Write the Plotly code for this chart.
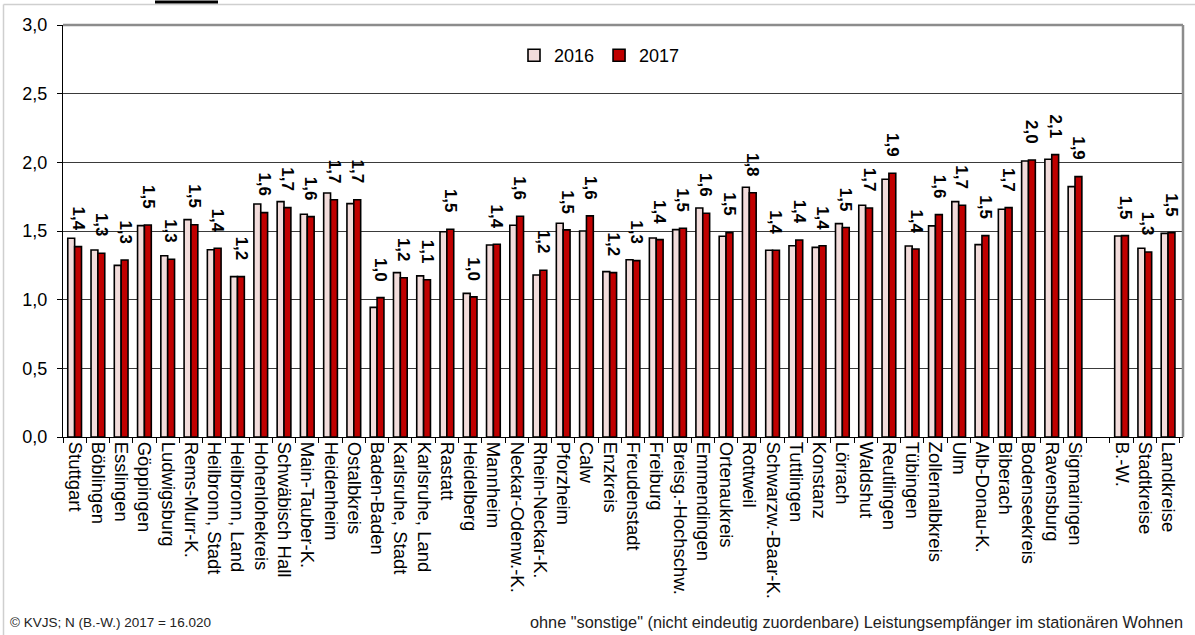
import plotly.graph_objects as go

categories = ["Stuttgart", "Böblingen", "Esslingen", "Göppingen", "Ludwigsburg", "Rems-Murr-K.",
              "Heilbronn, Stadt", "Heilbronn, Land", "Hohenlohekreis", "Schwäbisch Hall", "Main-Tauber-K.",
              "Heidenheim", "Ostalbkreis", "Baden-Baden", "Karlsruhe, Stadt", "Karlsruhe, Land", "Rastatt",
              "Heidelberg", "Mannheim", "Neckar-Odenw.-K.", "Rhein-Neckar-K.", "Pforzheim", "Calw", "Enzkreis",
              "Freudenstadt", "Freiburg", "Breisg.-Hochschw.", "Emmendingen", "Ortenaukreis", "Rottweil",
              "Schwarzw.-Baar-K.", "Tuttlingen", "Konstanz", "Lörrach", "Waldshut", "Reutlingen", "Tübingen",
              "Zollernalbkreis", "Ulm", "Alb-Donau-K.", "Biberach", "Bodenseekreis", "Ravensburg", "Sigmaringen",
              " ", "B.-W.", "Stadtkreise", "Landkreise"]

values_2016 = [1.447, 1.362, 1.250, 1.539, 1.320, 1.583, 1.364, 1.168, 1.697, 1.714, 1.622, 1.777, 1.699,
               0.944, 1.197, 1.173, 1.495, 1.046, 1.398, 1.542, 1.180, 1.556, 1.500, 1.204, 1.291, 1.449,
               1.510, 1.668, 1.462, 1.819, 1.360, 1.393, 1.381, 1.554, 1.687, 1.877, 1.391, 1.537, 1.714,
               1.401, 1.658, 2.010, 2.022, 1.823, None, 1.464, 1.374, 1.483]

values_2017 = [1.386, 1.338, 1.289, 1.544, 1.294, 1.546, 1.374, 1.168, 1.634, 1.670, 1.605, 1.728, 1.728,
               1.015, 1.160, 1.145, 1.513, 1.020, 1.403, 1.607, 1.214, 1.508, 1.610, 1.197, 1.284, 1.437,
               1.520, 1.629, 1.488, 1.779, 1.360, 1.435, 1.393, 1.525, 1.668, 1.920, 1.369, 1.619, 1.687,
               1.466, 1.670, 2.017, 2.056, 1.896, None, 1.466, 1.347, 1.488]

series_names = ["2016", "2017"]
y_ticks = [0.0, 0.5, 1.0, 1.5, 2.0, 2.5, 3.0]

footer_left = "© KVJS; N (B.-W.) 2017 = 16.020"
footer_right = 'ohne "sonstige" (nicht eindeutig zuordenbare) Leistungsempfänger im stationären Wohnen'

FONT = "Arial, Liberation Sans, sans-serif"
W, H = 1195, 635
L, R, T, B = 63, 12, 25, 198
PW, PH = W - L - R, H - T - B


def px_x(x):
    return (x - L) / PW


def px_y(y):
    return (H - B - y) / PH


bargap = 0.41
fig = go.Figure()
fig.add_trace(go.Bar(x=categories, y=values_2016, name=series_names[0],
                     marker=dict(color="#F2DCDB", line=dict(color="black", width=1.6))))
fig.add_trace(go.Bar(x=categories, y=values_2017, name=series_names[1],
                     marker=dict(color="#C00000", line=dict(color="black", width=1.6))))

# data labels for 2017, rotated
half = (1 - bargap) / 4
for i, v in enumerate(values_2017):
    if v is None:
        continue
    fig.add_annotation(x=i + half, y=v, xref="x", yref="y",
                       text="<b>" + f"{v:.1f}".replace(".", ",") + "</b>",
                       textangle=90, showarrow=False, yanchor="bottom", xanchor="center",
                       yshift=14, font=dict(family=FONT, size=17, color="black"))

# footer
fig.add_annotation(x=px_x(8), y=px_y(622), xref="paper", yref="paper", text=footer_left,
                   showarrow=False, xanchor="left", yanchor="middle",
                   font=dict(family=FONT, size=13.5, color="#222"))
fig.add_annotation(x=px_x(1185), y=px_y(622), xref="paper", yref="paper", text=footer_right,
                   showarrow=False, xanchor="right", yanchor="middle",
                   font=dict(family=FONT, size=16.3, color="#222"))

shapes = [
    # plot area top and right borders (gray)
    dict(type="line", xref="paper", yref="paper", x0=0, x1=1, y0=1, y1=1,
         line=dict(color="#8c8c8c", width=2.5)),
    dict(type="line", xref="paper", yref="paper", x0=1, x1=1, y0=0, y1=1,
         line=dict(color="#8c8c8c", width=2.5)),
    # outer frame
    dict(type="line", xref="paper", yref="paper", x0=px_x(3.5), x1=px_x(1200), y0=px_y(4.5), y1=px_y(4.5),
         line=dict(color="#cfcfcf", width=1.5)),
    dict(type="line", xref="paper", yref="paper", x0=px_x(3.5), x1=px_x(3.5), y0=px_y(4.5), y1=px_y(640),
         line=dict(color="#cfcfcf", width=1.5)),
    # remnant of title underline
    dict(type="line", xref="paper", yref="paper", x0=px_x(155), x1=px_x(218), y0=px_y(2), y1=px_y(2),
         line=dict(color="black", width=3)),
]

fig.update_layout(
    width=W, height=H,
    margin=dict(l=L, r=R, t=T, b=B),
    paper_bgcolor="white", plot_bgcolor="white",
    barmode="group", bargap=bargap, bargroupgap=0,
    separators=",.",
    font=dict(family=FONT, size=16, color="black"),
    legend=dict(orientation="h", x=px_x(514), y=px_y(37), xanchor="left", yanchor="top",
                font=dict(family=FONT, size=18, color="black"), itemwidth=30,
                bgcolor="rgba(0,0,0,0)", traceorder="normal"),
    shapes=shapes,
    xaxis=dict(type="category", tickangle=90, tickson="boundaries", ticks="outside", ticklen=5,
               tickcolor="black", showline=True, linecolor="black", linewidth=1,
               tickfont=dict(family=FONT, size=18.5, color="black"), showgrid=False),
    yaxis=dict(range=[0, 3], tickvals=y_ticks, tickformat=".1f", ticks="outside", ticklen=5,
               tickcolor="black", showline=True, linecolor="black", linewidth=1,
               gridcolor="#3a3a3a", gridwidth=1, zeroline=False, ticklabelstandoff=6,
               tickfont=dict(family=FONT, size=18, color="black")),
)

fig.write_html("out.html", config={"displayModeBar": False},
               post_script="document.body.style.margin='0px';")
